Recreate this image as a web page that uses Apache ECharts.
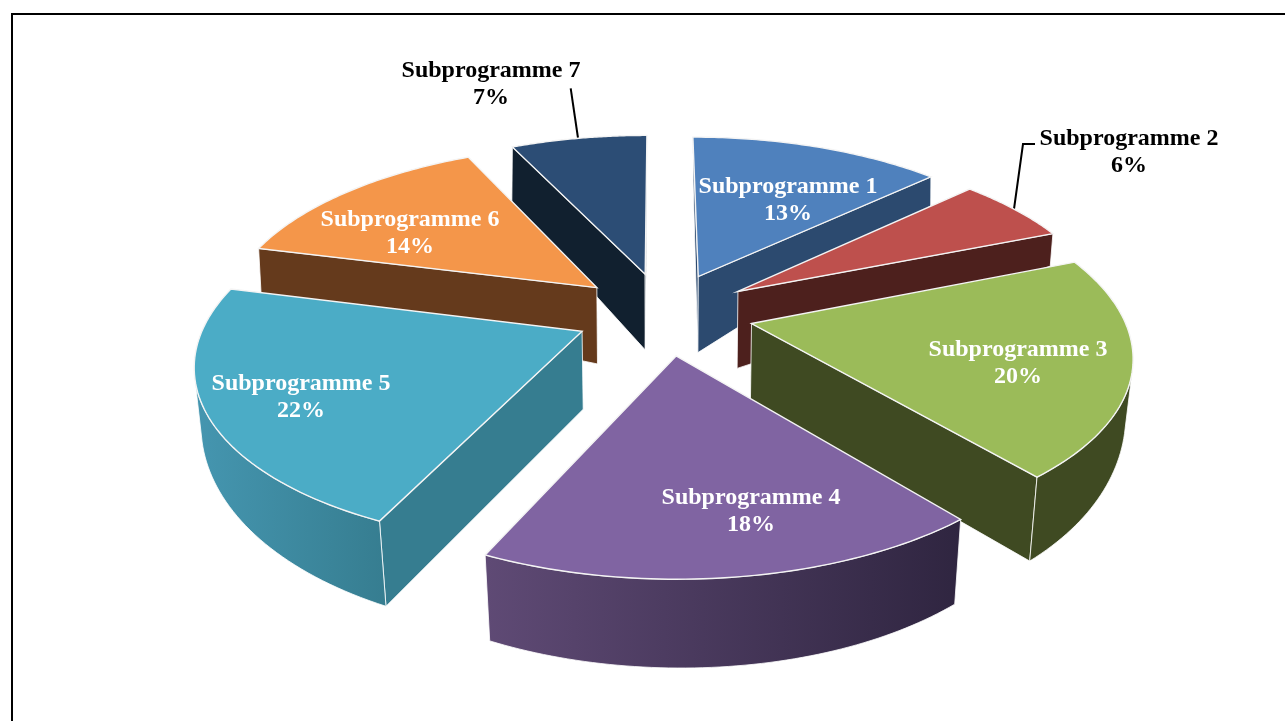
<!DOCTYPE html>
<html><head><meta charset="utf-8"><style>html,body{margin:0;padding:0;background:#fff;overflow:hidden}#c{width:1285px;height:721px}</style>
<script src="https://cdn.jsdelivr.net/npm/echarts@6/dist/echarts.min.js"></script></head><body><div id="c"></div>
<script>
// ---- data ----
const categories=['Subprogramme 1','Subprogramme 2','Subprogramme 3','Subprogramme 4','Subprogramme 5','Subprogramme 6','Subprogramme 7'];
const values=[13,6,20,18,22,14,7];
// ---- styling ----
const tops=['#4F81BD','#BE504D','#9BBB59','#8064A2','#4BACC6','#F4964A','#2C4D75'];
const walls=['#2C4A6F','#4D201D','#3F4A22','#5F4A75','#367D90','#653A1C','#11202F'];
const outer=[['#2C4A6F','#2C4A6F'],['#4D201D','#4D201D'],['#3F4A22','#3F4A22'],['#5F4A75','#2F2540'],['#4596B0','#367D90'],['#653A1C','#653A1C'],['#11202F','#11202F']];
const labelColors=['#fff','#000','#fff','#fff','#fff','#fff','#000'];
const labelCenters=[[788,200.5],[1129,152.5],[1018,363.5],[751,511.5],[301,397.5],[410,233.5],[491,84.5]];
// ---- 3D view of the pie plane (fitted to the picture) ----
const H=[379.51,-86.07,664.21,-5.49,122.40,313.26,0.01161,-0.15904];
const DY=[78.25,-4.65,18.77,-19.38,5.28,-6.27,9], DX=[0,-4.5,0,-5];
const depthTrim=[0,3,2,-3,0,0,9];
const apexTrim=[3,3,0,0,-2,1,2];
const startAngle=0.0499, explode=0.2399;
const order=[0,6,1,5,2,4,3];
const cum=[0];values.forEach(v=>cum.push(cum[cum.length-1]+v));
const total=cum[cum.length-1], TAU=2*Math.PI;
function proj(u,v,b){const w=H[6]*u+H[7]*v+1;let x=(H[0]*u+H[1]*v+H[2])/w,y=(H[3]*u+H[4]*v+H[5])/w;
 if(b){x+=DX[0]+DX[1]*u+DX[2]*v+DX[3]*u*v;y+=DY[0]+DY[1]*u+DY[2]*v+DY[3]*u*u+DY[4]*u*v+DY[5]*v*v+DY[6]*u*u*v}return[x,y]}
const area=a=>{let s=0;a.forEach((q,i)=>{const n=a[(i+1)%a.length];s+=q[0]*n[1]-n[0]*q[1]});return s};
function renderSlice(par,api){const i=api.value(1),val=api.value(0);
 const s=startAngle+cum[i]/total*TAU,sweep=val/total*TAU,m=s+sweep/2,ax=explode*Math.sin(m),ay=-explode*Math.cos(m);
 const P=(f,b)=>{const th=s+sweep*f;const q=proj(ax+Math.sin(th),ay-Math.cos(th),b);if(b)q[1]+=depthTrim[i];return q};
 const C=b=>{const q=proj(ax,ay,b);if(b)q[1]+=apexTrim[i];return q};
 const N=60,T=[],B=[];for(let t=0;t<=N;t++){T.push(P(t/N,0));B.push(P(t/N,1))}
 const ch=[];const edge={stroke:'rgba(255,255,255,0.8)',lineWidth:1};
 const sw=[C(0),T[0],B[0],C(1)],ew=[C(0),T[N],B[N],C(1)];
 if(area(sw)<0)ch.push({type:'polygon',shape:{points:sw},style:{fill:walls[i],...edge}});
 if(area(ew)>0)ch.push({type:'polygon',shape:{points:ew},style:{fill:walls[i],...edge}});
 const ot=[],ob=[];for(let t=0;t<N;t++){if(area([T[t],T[t+1],B[t+1],B[t]])<0){if(!ot.length){ot.push(T[t]);ob.push(B[t])}ot.push(T[t+1]);ob.push(B[t+1])}}
 if(ot.length)ch.push({type:'polygon',shape:{points:ot.concat(ob.reverse())},style:{fill:new echarts.graphic.LinearGradient(0,0,1,0,[{offset:0,color:outer[i][0]},{offset:1,color:outer[i][1]}]),...edge}});
 ch.push({type:'polygon',shape:{points:[C(0)].concat(T)},style:{fill:tops[i],stroke:'#f4f4f4',lineWidth:1.4}});
 return{type:'group',children:ch}}
function renderLabel(par,api){const i=api.value(1);return{type:'text',x:labelCenters[i][0],y:labelCenters[i][1],z2:100,style:{text:categories[i]+'\n'+api.value(0)+'%',fill:labelColors[i],font:'bold 24px "Liberation Serif"',align:'center',verticalAlign:'middle',lineHeight:27}}}
const line=pts=>({type:'polyline',shape:{points:pts},style:{stroke:'#000',lineWidth:2,fill:null}});
const chart=echarts.init(document.getElementById('c'));
chart.setOption({animation:false,
 graphic:[{type:'polyline',shape:{points:[[12,721],[12,14],[1285,14]]},style:{stroke:'#000',lineWidth:2,fill:null},silent:true},
  line([[570.7,88.3],[578,138]]),line([[1035,144],[1023,144],[1014,209]])],
 series:[{type:'custom',coordinateSystem:'none',silent:true,z:2,data:order.map(i=>[values[i],i]),renderItem:renderSlice},
  {type:'custom',coordinateSystem:'none',silent:true,z:3,data:values.map((v,i)=>[v,i]),renderItem:renderLabel}]});
</script></body></html>
